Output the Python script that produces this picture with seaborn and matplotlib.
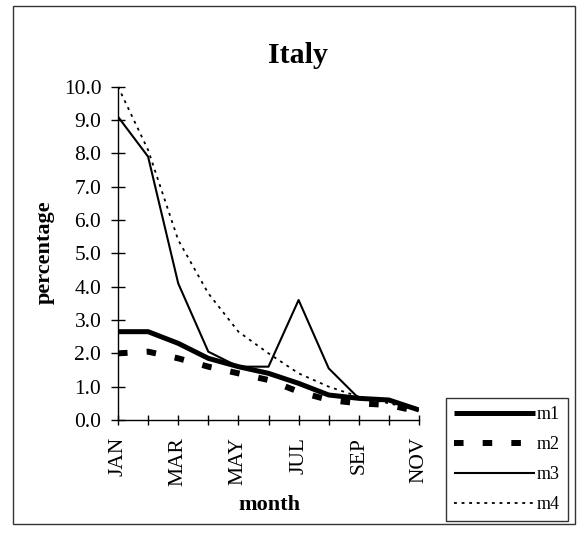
import matplotlib
matplotlib.use("Agg")
import matplotlib.pyplot as plt
from matplotlib.patches import Rectangle
import numpy as np
import pandas as pd
import seaborn as sns

months = ["JAN", "FEB", "MAR", "APR", "MAY", "JUN", "JUL", "AUG", "SEP", "OCT", "NOV"]
m1 = [2.65, 2.65, 2.3, 1.85, 1.6, 1.4, 1.1, 0.75, 0.65, 0.6, 0.3]
m2 = [2.0, 2.05, 1.85, 1.6, 1.4, 1.2, 0.85, 0.6, 0.5, 0.45, 0.25]
m3 = [9.1, 7.9, 4.1, 2.05, 1.6, 1.6, 3.6, 1.55, 0.65, 0.6, 0.3]
m4 = [10.0, 8.1, 5.4, 3.8, 2.65, 2.0, 1.4, 1.0, 0.7, 0.5, 0.3]
series_names = ["m1", "m2", "m3", "m4"]
yticks = [0, 1, 2, 3, 4, 5, 6, 7, 8, 9, 10]

sns.set_style("ticks")
plt.rcParams["font.family"] = ["Liberation Serif", "DejaVu Serif"]
plt.rcParams["text.color"] = "black"
plt.rcParams["axes.labelcolor"] = "black"
plt.rcParams["axes.titlecolor"] = "black"

df = pd.DataFrame({
    "month": np.tile(np.arange(len(months)), 4),
    "value": m1 + m2 + m3 + m4,
    "series": np.repeat(series_names, len(months)),
})

styles = {
    "m1": dict(linewidth=3.6, linestyle="-"),
    "m2": dict(linewidth=4.3, linestyle=(0, (1.6, 3.2))),
    "m3": dict(linewidth=1.5, linestyle="-"),
    "m4": dict(linewidth=1.3, linestyle=(0, (1.6, 2.6))),
}

W, H = 587, 533
fig = plt.figure(figsize=(W / 100, H / 100), dpi=100)
fig.patch.set_facecolor("white")

# plot area in pixel terms
x0, x1, ytop, ybot = 118, 419, 86.7, 420
ax = fig.add_axes([x0 / W, 1 - ybot / H, (x1 - x0) / W, (ybot - ytop) / H])

for name in series_names:
    sub = df[df["series"] == name]
    sns.lineplot(data=sub, x="month", y="value", ax=ax, color="black",
                 label=name, legend=False, solid_capstyle="butt",
                 dash_capstyle="butt", **styles[name])

ax.set_xlim(0, len(months) - 1)
ax.set_ylim(0, 10)
ax.set_xticks(np.arange(len(months)))
ax.set_xticklabels([m if i % 2 == 0 else "" for i, m in enumerate(months)],
                   rotation=90)
ax.set_yticks(yticks)
ax.set_yticklabels([f"{v:.1f}" for v in yticks])
ax.tick_params(axis="y", direction="inout", length=10, width=1, pad=7,
               labelsize=15.5, colors="black")
ax.tick_params(axis="x", direction="inout", length=7, width=1, pad=8.6,
               labelsize=15.5, colors="black")
for s in ["top", "right"]:
    ax.spines[s].set_visible(False)
for s in ["left", "bottom"]:
    ax.spines[s].set_color("black")
    ax.spines[s].set_linewidth(1)
ax.set_facecolor("white")

ax.set_xlabel("month", fontsize=16, fontweight="bold")
ax.xaxis.label.set_va("center")
ax.xaxis.set_label_coords((269 - x0) / (x1 - x0), (ybot - 505) / (ybot - ytop))
ax.set_ylabel("percentage", fontsize=16, fontweight="bold")
ax.yaxis.label.set_va("center")
ax.yaxis.set_label_coords((45 - x0) / (x1 - x0), (ybot - 252) / (ybot - ytop))

ax.set_title("Italy", fontsize=21.5, fontweight="bold",
             x=(298 - x0) / (x1 - x0), pad=17)

handles, labels = ax.get_legend_handles_labels()
leg = fig.legend(handles, labels, loc="upper left",
                 bbox_to_anchor=(446 / W, 1 - 398 / H),
                 frameon=True, fancybox=False, edgecolor="black",
                 fontsize=13, handlelength=4.5, handletextpad=0.05,
                 labelspacing=0.72, borderpad=0.45, borderaxespad=0)
leg.get_frame().set_linewidth(1)

# chart border
fig.patches.append(Rectangle((13 / W, 1 - 524 / H), 562 / W, 518 / H,
                             transform=fig.transFigure, fill=False,
                             edgecolor="#333333", linewidth=1))

fig.savefig("out.png", dpi=100, facecolor="white")
